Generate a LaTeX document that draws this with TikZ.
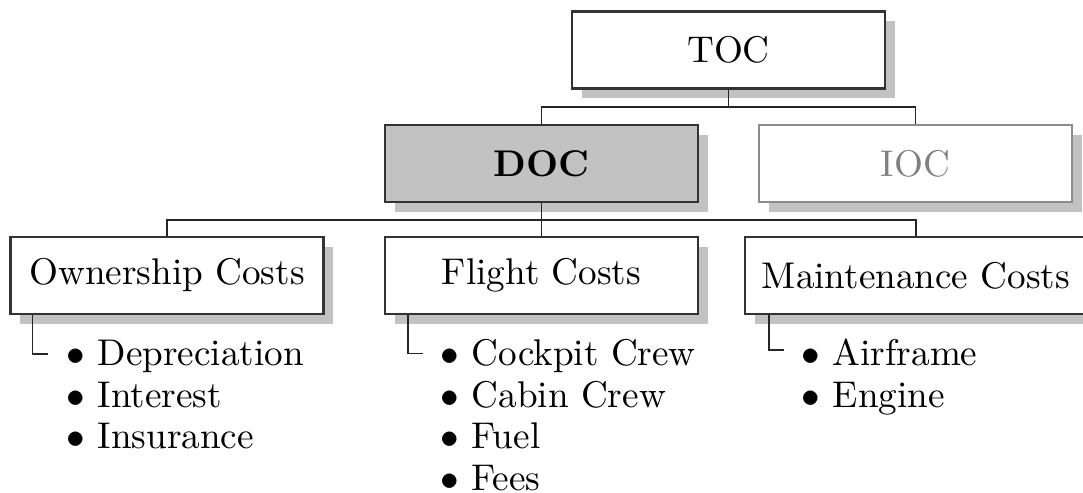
\documentclass[tikz,border=0pt]{standalone}
\usetikzlibrary{shadows,calc}
\begin{document}
\begin{tikzpicture}[x=0.269pt,y=-0.269pt,
  costbox/.style={draw=black!80,line width=0.6pt,fill=white,minimum width=84.2pt,minimum height=20.7pt,inner xsep=4.6pt,
    drop shadow={shadow xshift=2.65pt,shadow yshift=-2.65pt,fill=black!24,opacity=1}},
  docbox/.style={costbox,fill=black!24,font=\bfseries},
  iocbox/.style={costbox,draw=black!45,text=black!50},
  conn/.style={draw=black!85,line width=0.45pt},
  item/.style={anchor=base west,inner sep=0pt}]
\useasboundingbox (0,0) rectangle (1083,493);
\node[costbox] (toc) at (728.5,50) {TOC};
\node[docbox] (doc) at (541.5,163.5) {DOC};
\node[iocbox] (ioc) at (915.5,163.5) {IOC};
\node[costbox] (own) at (167,275.5) {Ownership Costs};
\node[costbox] (flight) at (541.5,275.5) {Flight Costs};
\node[costbox] (maint) at (916,275.5) {Maintenance Costs};
% top connectors
\coordinate (j1) at (728.5,107);
\draw[conn] (toc.south) -- (toc.south |- j1);
\draw[conn] (doc.north) -- (doc.north |- j1) -| (ioc.north);
% second level
\coordinate (j2) at (541.5,220);
\draw[conn] (doc.south) -- (flight.north);
\draw[conn] (own.north) -- (own.north |- j2) -| (maint.north);
% lists
\node[item] (o1) at (66,366) {$\bullet$ Depreciation};
\node[item] (o2) at (66,407.5) {$\bullet$ Interest};
\node[item] (o3) at (66,449) {$\bullet$ Insurance};
\node[item] (f1) at (440,366) {$\bullet$ Cockpit Crew};
\node[item] (f2) at (440,407.5) {$\bullet$ Cabin Crew};
\node[item] (f3) at (440,449) {$\bullet$ Fuel};
\node[item] (f4) at (440,490.5) {$\bullet$ Fees};
\node[item] (m1) at (801,366) {$\bullet$ Airframe};
\node[item] (m2) at (801,407.5) {$\bullet$ Engine};
\draw[conn] ($(own.south west)+(23,0)$) |- ($(o1.west)+(-18,-3)$);
\draw[conn] ($(flight.south west)+(24,0)$) |- ($(f1.west)+(-17,-3)$);
\draw[conn] ($(maint.south west)+(25,0)$) |- ($(m1.west)+(-17,-3)$);
\end{tikzpicture}
\end{document}
